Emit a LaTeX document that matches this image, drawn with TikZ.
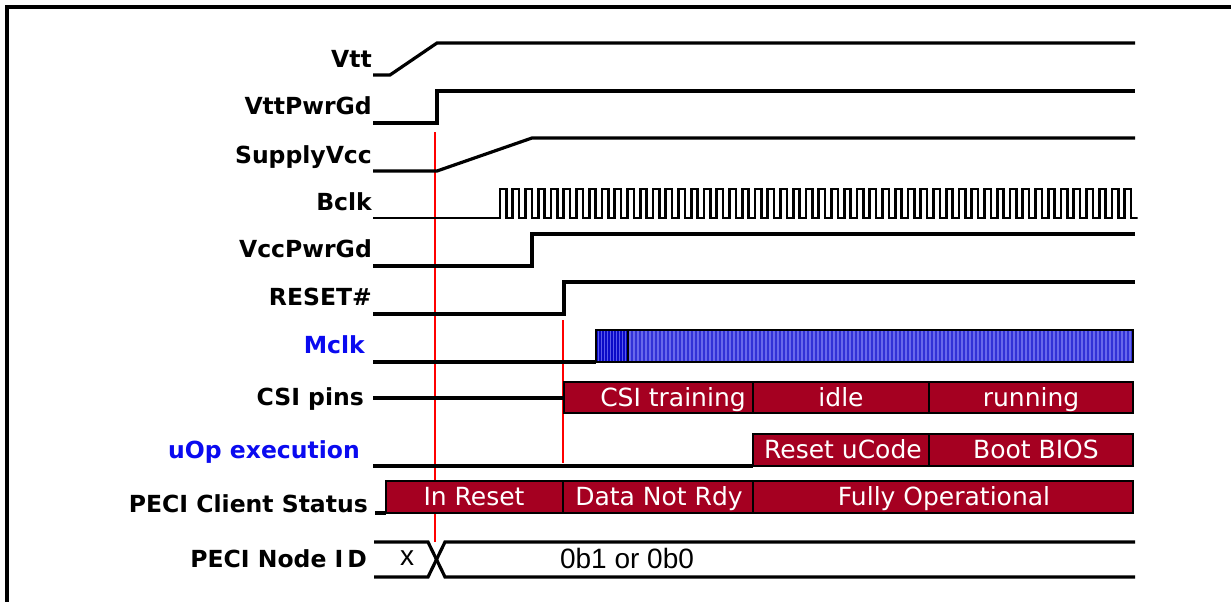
\documentclass[tikz,border=0pt]{standalone}
\usepackage{fontspec}
\setmainfont{DejaVu Sans}
\newfontfamily\arialf{Liberation Sans}
\definecolor{boxred}{RGB}{165,0,33}
\definecolor{lblblue}{RGB}{10,10,240}
\definecolor{mdark}{RGB}{10,10,200}
\definecolor{mdarkst}{RGB}{90,90,235}
\definecolor{mlight}{RGB}{50,50,215}
\definecolor{mlightst}{RGB}{105,105,235}
\tikzset{
  sig/.style={line width=3.2pt, line join=miter},
  clk/.style={line width=2.6pt, line join=miter},
  frame/.style={line width=3.2pt},
  marker/.style={red, line width=1.3pt},
  lbl/.style={anchor=base east, inner sep=0pt, font=\fontsize{23.5}{26}\selectfont\bfseries},
  bluelbl/.style={lbl, text=lblblue},
  seg/.style={draw=black, fill=boxred, line width=2.9pt},
  segtxt/.style={anchor=base, inner sep=0pt, text=white, font=\fontsize{25}{27}\selectfont},
  bustxt/.style={anchor=base, inner sep=0pt, font=\arialf\fontsize{28}{30}\selectfont},
}
\begin{document}
\begin{tikzpicture}[x=1pt,y=-1pt]
\useasboundingbox (0,0) rectangle (1231,602);
% frame
\draw[frame] (7,602) -- (7,7) -- (1231,7);
% labels
\node[lbl] (lvtt) at (372,67) {Vtt};
\node[lbl] (lvttpg) at (372,114) {VttPwrGd};
\node[lbl] (lsvcc) at (372,163) {SupplyVcc};
\node[lbl] (lbclk) at (372,210) {Bclk};
\node[lbl] (lvccpg) at (372,257) {VccPwrGd};
\node[lbl] (lrst) at (372,305) {RESET\#};
\node[bluelbl] (lmclk) at (365,353) {Mclk};
\node[lbl] (lcsi) at (364,405) {CSI pins};
\node[bluelbl] (luop) at (360,458) {uOp execution};
\node[lbl] (lpeci) at (368,512) {PECI Client Status};
\node[lbl] (lnode) at (367,567) {PECI Node I\,D};
% red markers
\draw[marker] (435,132) -- (435,542);
\draw[marker] (563,320) -- (563,463);
% Vtt
\draw[sig] (373,75) -- (390,75) -- (437,43) -- (1135,43);
% VttPwrGd
\draw[sig] (373,123) -- (437,123) -- (437,91) -- (1135,91);
% SupplyVcc
\draw[sig] (373,171) -- (437,171) -- (532,138) -- (1135,138);
% Bclk
\draw[clk] (373,218) -- (500,218)
  \foreach \i in {0,...,49} { -- ({500+12.75*\i},189) -- ({506.4+12.75*\i},189) -- ({506.4+12.75*\i},218) -- ({512.75+12.75*\i},218) }
  -- (1135,218);
% VccPwrGd
\draw[sig] (373,266) -- (532,266) -- (532,234) -- (1135,234);
% RESET#
\draw[sig] (373,314) -- (564,314) -- (564,282) -- (1135,282);
% Mclk
\draw[sig] (373,362) -- (596,362);
\fill[mlight] (628,330) rectangle (1133,362);
\foreach \k in {630,634,...,1131} \draw[mlightst, line width=1.3pt] (\k,330) -- (\k,362);
\fill[mdark] (596,330) rectangle (628,362);
\foreach \k in {598,601,...,626} \draw[mdarkst, line width=0.9pt] (\k,330) -- (\k,362);
\draw[line width=2.9pt] (628,330) rectangle (1133,362);
\draw[line width=2.9pt] (596,330) rectangle (628,362);
% CSI pins
\draw[sig] (373,398) -- (564,398);
\draw[seg] (564,382) rectangle (753,413);
\draw[seg] (753,382) rectangle (929,413);
\draw[seg] (929,382) rectangle (1133,413);
\node[segtxt] (tcsi) at (673,406) {CSI training};
\node[segtxt] (tidle) at (841,406) {idle};
\node[segtxt] (trun) at (1031,406) {running};
% uOp execution
\draw[sig] (373,466) -- (753,466);
\draw[seg] (753,434) rectangle (929,466);
\draw[seg] (929,434) rectangle (1133,466);
\node[segtxt] (tresu) at (843,458) {Reset uCode};
\node[segtxt] (tboot) at (1036,458) {Boot BIOS};
% PECI Client Status
\draw[sig] (375,513) -- (386,513);
\draw[seg] (386,481) rectangle (563,513);
\draw[seg] (563,481) rectangle (753,513);
\draw[seg] (753,481) rectangle (1133,513);
\node[segtxt] (tinr) at (474,505) {In Reset};
\node[segtxt] (tdnr) at (659,505) {Data Not Rdy};
\node[segtxt] (tfo) at (944,505) {Fully Operational};
% PECI Node ID
\draw[sig] (374,542) -- (428,542) -- (445,577) -- (1135,577);
\draw[sig] (374,577) -- (428,577) -- (445,542) -- (1135,542);
\node[bustxt] (tx) at (407,565) {x};
\node[bustxt] (tval) at (627,568) {0b1 or 0b0};
\end{tikzpicture}
\end{document}
